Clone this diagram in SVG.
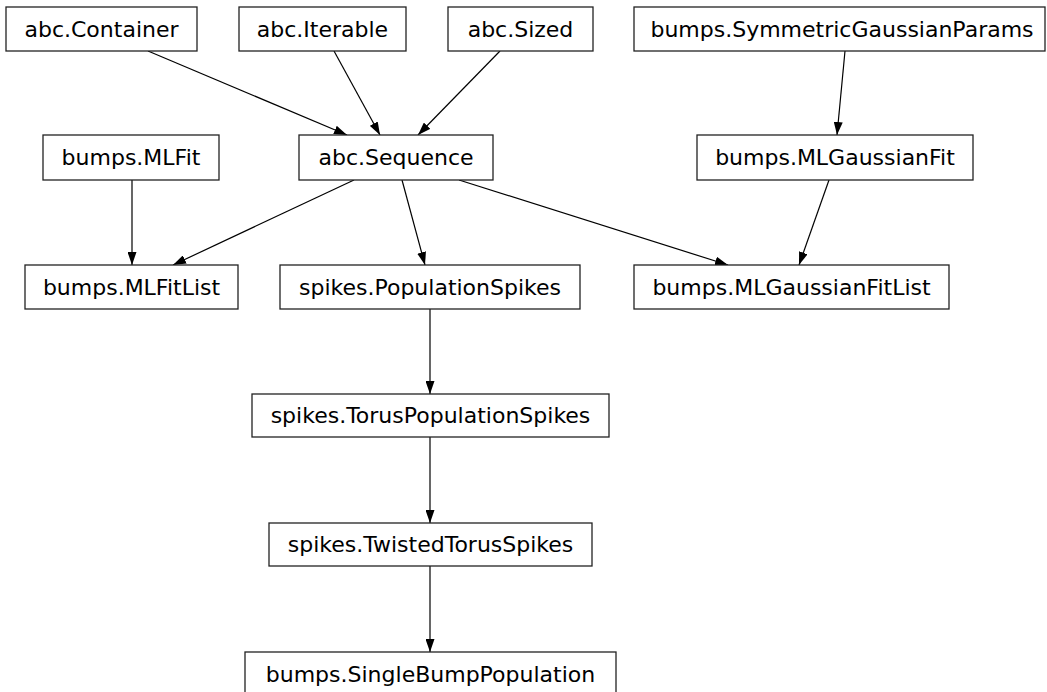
<svg xmlns="http://www.w3.org/2000/svg" width="1047" height="692" viewBox="0 0 1047 692">
<style>
.node rect{fill:#fff;stroke:#222;stroke-width:1.3}
.node text{font-family:"DejaVu Sans",sans-serif;font-size:22px;fill:#000;text-anchor:middle}
.edges line{stroke:#000;stroke-width:1.2;marker-end:url(#arr)}
</style>
<defs>
<marker id="arr" viewBox="0 0 13 9" refX="13" refY="4.5" markerWidth="13" markerHeight="9" markerUnits="userSpaceOnUse" orient="auto">
<path d="M0,0 L13,4.5 L0,9 z" fill="#000"/>
</marker>
</defs>
<rect width="1047" height="692" fill="#fff"/>
<g class="edges">
<line x1="148" y1="51" x2="347" y2="135"/>
<line x1="334" y1="51" x2="380" y2="135"/>
<line x1="500" y1="51" x2="418" y2="135"/>
<line x1="845" y1="51" x2="837" y2="135"/>
<line x1="132" y1="180" x2="132" y2="265"/>
<line x1="354" y1="180" x2="173" y2="265"/>
<line x1="402" y1="180" x2="425" y2="265"/>
<line x1="459" y1="180" x2="728" y2="265"/>
<line x1="829" y1="180" x2="799" y2="265"/>
<line x1="430" y1="309" x2="430" y2="394"/>
<line x1="430" y1="437" x2="430" y2="523"/>
<line x1="430" y1="566" x2="430" y2="652"/>
</g>
<g id="abc_Container" class="node"><rect x="6" y="7" width="191" height="44"/><text x="101.5" y="36.5">abc.Container</text></g>
<g id="abc_Iterable" class="node"><rect x="239" y="7" width="167" height="44"/><text x="322.5" y="36.5">abc.Iterable</text></g>
<g id="abc_Sized" class="node"><rect x="448" y="7" width="145" height="44"/><text x="520.5" y="36.5">abc.Sized</text></g>
<g id="bumps_SymmetricGaussianParams" class="node"><rect x="634" y="7" width="411" height="44"/><text x="842" y="36.5">bumps.SymmetricGaussianParams</text></g>
<g id="bumps_MLFit" class="node"><rect x="43" y="135" width="176" height="45"/><text x="131" y="165">bumps.MLFit</text></g>
<g id="abc_Sequence" class="node"><rect x="299" y="135" width="194" height="45"/><text x="396" y="165">abc.Sequence</text></g>
<g id="bumps_MLGaussianFit" class="node"><rect x="697" y="135" width="276" height="45"/><text x="835" y="165">bumps.MLGaussianFit</text></g>
<g id="bumps_MLFitList" class="node"><rect x="25" y="265" width="213" height="44"/><text x="131.5" y="294.5">bumps.MLFitList</text></g>
<g id="spikes_PopulationSpikes" class="node"><rect x="280" y="265" width="300" height="44"/><text x="430" y="294.5">spikes.PopulationSpikes</text></g>
<g id="bumps_MLGaussianFitList" class="node"><rect x="634" y="265" width="315" height="44"/><text x="791.5" y="294.5">bumps.MLGaussianFitList</text></g>
<g id="spikes_TorusPopulationSpikes" class="node"><rect x="252" y="394" width="357" height="43"/><text x="430.5" y="423">spikes.TorusPopulationSpikes</text></g>
<g id="spikes_TwistedTorusSpikes" class="node"><rect x="269" y="523" width="323" height="43"/><text x="430.5" y="552">spikes.TwistedTorusSpikes</text></g>
<g id="bumps_SingleBumpPopulation" class="node"><rect x="245" y="652" width="371" height="44"/><text x="430.5" y="681.5">bumps.SingleBumpPopulation</text></g>
</svg>
